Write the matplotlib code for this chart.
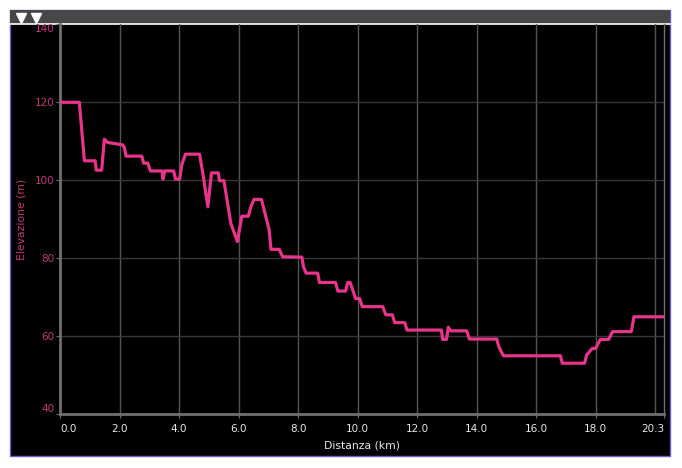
import matplotlib
matplotlib.use("Agg")
from matplotlib import pyplot as plt
from matplotlib.patches import Rectangle
from matplotlib.lines import Line2D

W, H = 682, 468

# profile (km, m)
dist = [0.0, 0.65, 0.82, 1.18, 1.22, 1.40, 1.49, 1.60, 2.10, 2.16, 2.22, 2.75,
        2.81, 2.95, 3.04, 3.43, 3.46, 3.52, 3.82, 3.88, 4.02, 4.10, 4.22, 4.69,
        4.80, 4.97, 5.09, 5.32, 5.36, 5.51, 5.74, 5.96, 6.11, 6.33, 6.41, 6.52,
        6.77, 7.03, 7.09, 7.37, 7.48, 8.13, 8.18, 8.27, 8.66, 8.72, 9.26, 9.34,
        9.60, 9.67, 9.75, 9.86, 9.93, 10.07, 10.16, 10.85, 10.95, 11.17, 11.25,
        11.59, 11.66, 12.82, 12.86, 12.99, 13.05, 13.13, 13.67, 13.76, 14.68,
        14.74, 14.90, 16.82, 16.88, 17.63, 17.70, 17.89, 18.00, 18.16, 18.44,
        18.57, 19.20, 19.29, 20.30]
elev = [120.0, 120.0, 105.0, 105.0, 102.6, 102.6, 110.5, 109.7, 109.1, 108.5,
        106.2, 106.2, 104.4, 104.4, 102.4, 102.4, 100.3, 102.4, 102.4, 100.3,
        100.3, 104.2, 106.7, 106.7, 101.8, 93.2, 101.9, 101.9, 99.9, 99.9,
        89.0, 84.3, 90.8, 90.8, 93.1, 95.1, 95.1, 87.3, 82.3, 82.3, 80.4, 80.3,
        77.9, 76.2, 76.2, 73.8, 73.8, 71.6, 71.6, 73.8, 73.8, 71.4, 69.7, 69.7,
        67.6, 67.6, 65.5, 65.5, 63.5, 63.5, 61.6, 61.6, 59.2, 59.2, 62.3, 61.4,
        61.4, 59.3, 59.3, 57.5, 55.0, 55.0, 53.1, 53.1, 55.2, 56.9, 56.9, 59.2,
        59.2, 61.2, 61.2, 65.0, 65.0]

xticks = [0, 2, 4, 6, 8, 10, 12, 14, 16, 18, 20.3]
xtick_labels = ["0.0", "2.0", "4.0", "6.0", "8.0", "10.0", "12.0", "14.0", "16.0", "18.0", "20.3"]
xgrid = [2, 4, 6, 8, 10, 12, 14, 16, 18, 20]
yticks = [40, 60, 80, 100, 120, 140]
ygrid = [60, 80, 100, 120]

PINK = "#e8348a"
LABEL_PINK = "#bf3a7c"

fig = plt.figure(figsize=(W / 100, H / 100), dpi=100, facecolor="white")

def fx(px):
    return px / W

def fy(py):
    return 1 - py / H

# black panel, header bar and border
fig.patches.append(Rectangle((fx(10), fy(456)), fx(660), 446 / H, transform=fig.transFigure,
                             facecolor="black", edgecolor="#6a5acd", lw=1, zorder=0))
fig.patches.append(Rectangle((fx(10), fy(23.5)), fx(660), 13.5 / H, transform=fig.transFigure,
                             facecolor="#474747", edgecolor="none", zorder=1))
fig.lines.append(Line2D([fx(10), fx(670)], [fy(24.3), fy(24.3)], transform=fig.transFigure,
                        color="white", lw=1.2, zorder=2))
for px in [21, 36]:
    fig.lines.append(Line2D([fx(px)], [fy(17.5)], transform=fig.transFigure, marker="v",
                            markersize=6.5, color="white", lw=0, zorder=3))

ax = fig.add_axes([fx(60), fy(414.3), fx(664 - 60), (414.3 - 24.3) / H])
ax.set_zorder(5)
ax.patch.set_alpha(0)

for g in xgrid:
    ax.axvline(g, color="#555555", lw=1, zorder=1)
for g in ygrid:
    ax.axhline(g, color="#383838", lw=1, zorder=1)

ax.plot(dist, elev, color=PINK, lw=2.3, zorder=3, solid_joinstyle="round")

ax.set_xlim(0, 20.3)
ax.set_ylim(40, 140)

for side in ["left", "bottom"]:
    ax.spines[side].set_color("#707070")
    ax.spines[side].set_linewidth(2)
ax.spines["right"].set_color("#707070")
ax.spines["right"].set_linewidth(1)
ax.spines["top"].set_visible(False)

ax.set_xticks(xticks)
ax.set_xticklabels(xtick_labels)
ax.set_yticks(yticks)
ax.set_yticklabels([str(v) for v in yticks])
ax.tick_params(axis="x", colors="#707070", labelcolor="#e8e8e8", labelsize=7.5, length=3, pad=4)
ax.tick_params(axis="y", colors="#707070", labelcolor=LABEL_PINK, labelsize=7.5, length=3, pad=1)

xl = ax.get_xticklabels()
xl[0].set_ha("left")
xl[-1].set_ha("right")
yl = ax.get_yticklabels()
yl[0].set_va("bottom")
yl[-1].set_va("top")

ax.set_xlabel("Distanza (km)", color="#e8e8e8", fontsize=7.8, labelpad=5)
ax.set_ylabel("Elevazione (m)", color=LABEL_PINK, fontsize=7.8, labelpad=6)

fig.savefig("out.png", dpi=100, facecolor="white")
